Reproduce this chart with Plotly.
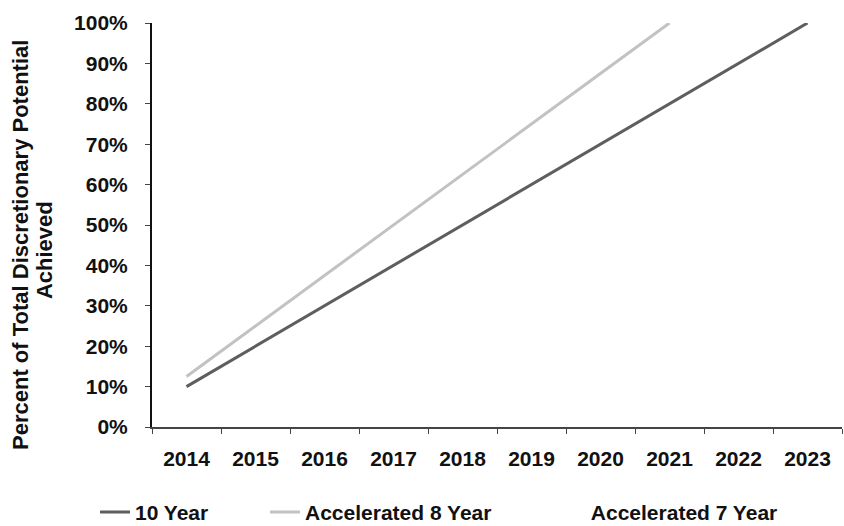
import plotly.graph_objects as go

# Category labels along the x-axis
years = ["2014", "2015", "2016", "2017", "2018", "2019", "2020", "2021", "2022", "2023"]

# Share of total discretionary potential achieved each year
ten_year = [0.10, 0.20, 0.30, 0.40, 0.50, 0.60, 0.70, 0.80, 0.90, 1.00]
accel_8_year = [0.125, 0.25, 0.375, 0.50, 0.625, 0.75, 0.875, 1.00]
accel_7_year = [0.143, 0.286, 0.429, 0.571, 0.714, 0.857, 1.00]

y_ticks = [0, 0.1, 0.2, 0.3, 0.4, 0.5, 0.6, 0.7, 0.8, 0.9, 1.0]

FONT = "Liberation Sans, Arial, sans-serif"
INK = "#111"

fig = go.Figure()
fig.add_trace(go.Scatter(
    x=years, y=ten_year, mode="lines", name="10 Year",
    line=dict(color="#5e5e5e", width=3), legend="legend",
))
fig.add_trace(go.Scatter(
    x=years[:len(accel_8_year)], y=accel_8_year, mode="lines", name="Accelerated 8 Year",
    line=dict(color="#c2c2c2", width=3), legend="legend2",
))
fig.add_trace(go.Scatter(
    x=years[:len(accel_7_year)], y=accel_7_year, mode="lines", name="Accelerated 7 Year",
    line=dict(color="rgba(255,255,255,0)", width=3), legend="legend3",
))

# Each legend entry sits in its own legend box so it can be placed freely
legend_common = dict(
    orientation="h", yref="container", yanchor="middle", y=0.026,
    xanchor="left",
    font=dict(family=FONT, size=21, color=INK, weight="bold"),
    bgcolor="rgba(0,0,0,0)", borderwidth=0,
)

fig.update_layout(
    width=844, height=526,
    margin=dict(l=152, r=2, t=23, b=99, autoexpand=False),
    paper_bgcolor="white", plot_bgcolor="white",
    font=dict(family=FONT, size=21, color=INK),
    showlegend=True,
    legend=dict(legend_common, x=-0.0826),
    legend2=dict(legend_common, x=0.1638),
    legend3=dict(legend_common, x=0.578),
    xaxis=dict(
        type="category", categoryorder="array", categoryarray=years,
        range=[-0.5, 9.5],
        showline=True, linecolor="#444", linewidth=1.5,
        ticks="outside", ticklen=5, tickcolor="#444", tickson="boundaries",
        ticklabelstandoff=12,
        tickfont=dict(family=FONT, size=21, color=INK, weight="bold"),
        showgrid=False, zeroline=False,
    ),
    yaxis=dict(
        range=[0, 1.0], tickvals=y_ticks, tickformat=".0%",
        showline=True, linecolor=INK, linewidth=2,
        ticks="outside", ticklen=5, tickcolor="#444",
        ticklabelstandoff=13,
        tickfont=dict(family=FONT, size=21, color=INK, weight="bold"),
        showgrid=False, zeroline=False,
    ),
    annotations=[
        dict(
            text="<b>Percent of Total Discretionary Potential</b>",
            xref="paper", yref="paper", x=-0.1899, y=0.4505,
            xanchor="center", yanchor="middle", textangle=-90, showarrow=False,
            font=dict(family=FONT, size=22, color=INK),
        ),
        dict(
            text="<b>Achieved</b>",
            xref="paper", yref="paper", x=-0.1565, y=0.438,
            xanchor="center", yanchor="middle", textangle=-90, showarrow=False,
            font=dict(family=FONT, size=22, color=INK),
        ),
    ],
)

fig.write_html("out.html")
